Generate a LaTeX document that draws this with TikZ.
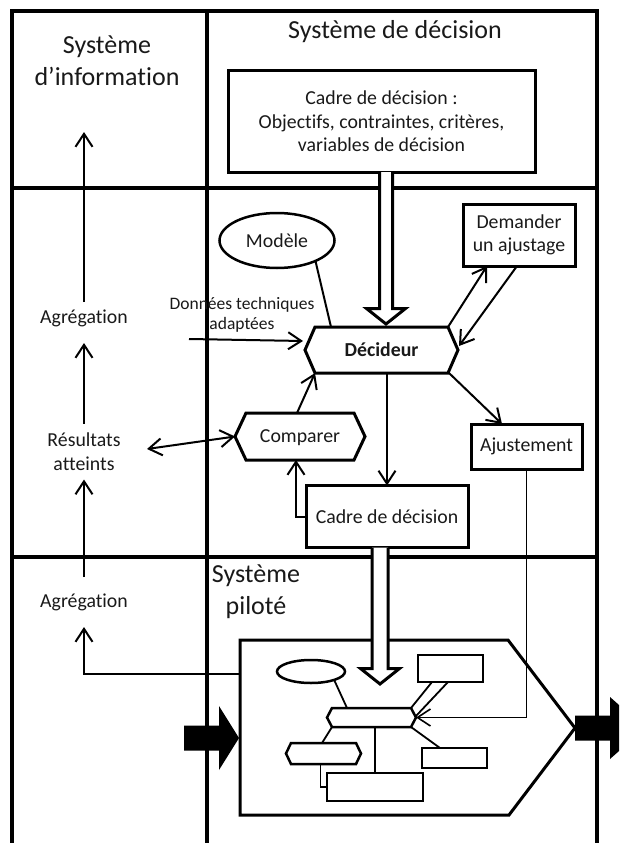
\documentclass[tikz,border=0pt]{standalone}
\usepackage{fontspec}
\setmainfont{Carlito}[Ligatures=NoCommon]
\usetikzlibrary{arrows.meta,calc,shapes.geometric}

\newcommand\txttitle{\fontsize{26}{32}\selectfont}
\newcommand\txtbody{\fontsize{19.8}{23.5}\selectfont}
\newcommand\txtsmall{\fontsize{17.5}{20.5}\selectfont}

% hexagonal outline around a node: #2 node name, #3 corner inset
\newcommand\hexoutline[3][]{%
  \draw[#1] (#2.west) -- ($(#2.north west)+(#3,0)$) -- ($(#2.north east)+(-#3,0)$)
    -- (#2.east) -- ($(#2.south east)+(-#3,0)$) -- ($(#2.south west)+(#3,0)$) -- cycle;}

% hollow block arrow: start, tip, half shaft width, half head width, head length
\newcommand\hollowarrow[5]{%
  \draw[bigarrow] ($(#1)+(-#3,0)$) -- ($(#2)+(-#3,-#5)$) -- ($(#2)+(-#4,-#5)$) -- (#2)
    -- ($(#2)+(#4,-#5)$) -- ($(#2)+(#3,-#5)$) -- ($(#1)+(#3,0)$);}

\begin{document}
\begin{tikzpicture}[x=1pt,y=-1pt,
  every node/.style={inner sep=0pt,outer sep=0pt,text=black!90},
  gridline/.style={line width=4pt,line join=miter},
  box/.style={draw,line width=3pt,align=center,font=\txtbody},
  txt/.style={align=center,font=\txtbody},
  ttl/.style={align=center,font=\txttitle},
  conn/.style={line width=2pt,-{Straight Barb[length=13pt,width=17pt]}},
  dconn/.style={line width=2pt,{Straight Barb[length=13pt,width=17pt]}-{Straight Barb[length=13pt,width=17pt]}},
  thinconn/.style={line width=1.6pt,-{Straight Barb[length=13pt,width=17pt]}},
  plainline/.style={line width=2pt},
  mini/.style={line width=1.8pt},
  minishape/.style={draw,line width=2.5pt},
  bigarrow/.style={draw,fill=white,line width=3pt,line join=miter},
]
\useasboundingbox (0,0) rectangle (619,843);
\clip (0,0) rectangle (619,843);

% lanes
\draw[gridline] (12,843) -- (12,11) -- (597,11) -- (597,843);
\draw[gridline] (207,11) -- (207,843);
\draw[gridline] (12,188) -- (597,188);
\draw[gridline] (12,557) -- (597,557);

% lane titles
\node[ttl] (t-info) at (107,61) {Système\\d’information};
\node[ttl] (t-dec) at (395,32) {Système de décision};
\node[ttl] (t-pil) at (256,592) {Système\\piloté};

% decision system
\node[box,minimum width=307,minimum height=101] (cadre) at (381.5,121.5)
  {Cadre de décision :\\Objectifs, contraintes, critères,\\variables de décision};
\node[box,minimum width=112,minimum height=62] (dem) at (519,235) {Demander\\un ajustage};
\node[draw,ellipse,line width=2.5pt,minimum width=115,minimum height=55,font=\txtbody] (modele) at (277,240.5) {Modèle};
\node[txt,minimum width=153,minimum height=46,font=\txtbody\bfseries] (dec) at (381.5,350) {Décideur};
\hexoutline[line width=3pt]{dec}{10}
\node[txt,minimum width=130,minimum height=47,text depth=0.05em] (comp) at (300,436.5) {Comparer};
\hexoutline[line width=3pt]{comp}{11}
\node[box,minimum width=111,minimum height=45] (ajust) at (526.5,446.5) {Ajustement};
\node[box,minimum width=162,minimum height=62] (cadre2) at (387,516.5) {Cadre de décision};
\node[txt,font=\txtsmall] (donnees) at (242,315) {Données techniques\\adaptées};
\coordinate (dstart) at (189,339);

% information system
\node[txt,minimum height=32] (agr1) at (84,318) {Agrégation};
\node[txt,minimum width=126,minimum height=56] (res) at (84,451.5) {Résultats\\atteints};
\node[txt,minimum height=50] (agr2) at (84,602) {Agrégation};
\coordinate (infotop) at (84,132);

% piloted system
\draw[line width=3pt,line join=miter] (240,640) -- (508,640) -- (575,728) -- (509,815) -- (240,815) -- cycle;
\coordinate (p-w) at (240,738);
\coordinate (p-e) at (575,728);
\coordinate (p-out) at (240,674);
\fill ($(p-w)+(-56,-12.5)$) -- ($(p-w)+(-21,-12.5)$) -- ($(p-w)+(-21,-32)$) -- ($(p-w)+(-1,0)$)
  -- ($(p-w)+(-21,32)$) -- ($(p-w)+(-21,12.5)$) -- ($(p-w)+(-56,12.5)$) -- cycle;
\fill ($(p-e)+(0,-12.5)$) -- ($(p-e)+(35,-12.5)$) -- ($(p-e)+(35,-31)$) -- ($(p-e)+(70,0)$)
  -- ($(p-e)+(35,31)$) -- ($(p-e)+(35,12.5)$) -- ($(p-e)+(0,12.5)$) -- cycle;

\node[minishape,ellipse,minimum width=68,minimum height=23] (m-ell) at (311,671.5) {};
\node[minishape,minimum width=65,minimum height=27] (m-dem) at (450.5,668.5) {};
\node[minimum width=89,minimum height=19] (m-dec) at (371.5,717.5) {};
\hexoutline[line width=2.5pt]{m-dec}{5}
\node[minimum width=75,minimum height=21] (m-comp) at (323.5,753.5) {};
\hexoutline[line width=2.5pt]{m-comp}{5}
\node[minishape,minimum width=96,minimum height=28] (m-cadre) at (375,787) {};
\node[minishape,minimum width=65,minimum height=20] (m-ajust) at (454.5,758) {};

\draw[mini] (m-ell.-20) -- ($(m-dec.north west)+(20,0)$);
\draw[mini] ($(m-dec.north east)+(-5,0)$) -- ($(m-dem.south west)+(14,0)$);
\draw[mini] ($(m-dem.south west)+(30,0)$) -- ($(m-dec.east)+(0,-1.5)$);
\draw[mini] ($(m-dec.south west)+(5,0)$) -- ($(m-comp.north)+(-1.5,0)$);
\draw[mini] (m-dec.south -| m-cadre.north) -- (m-cadre.north);
\draw[mini] ($(m-dec.south east)+(-5,0)$) -- ($(m-ajust.north west)+(18,0)$);
\draw[mini] ($(m-comp.south)+(-3,0)$) |- (m-cadre.west);

% connectors
\draw[conn] (agr1.north) -- (infotop);
\draw[conn] (res.north) -- ($(agr1.south)+(0,9)$);
\draw[conn] (agr2.north) -- (res.south);
\draw[conn] (p-out) -| (agr2.south);
\draw[dconn] ($(res.east)+(0,-2.5)$) -- (comp.west);
\draw[conn] (dstart) -- ($(dec.west)+(-2,-9)$);
\draw[plainline] (modele.-28) -- ($(dec.north west)+(26,0)$);
\draw[conn] ($(dec.north east)+(-10,0)$) -- ($(dem.south west)+(24,0)$);
\draw[conn] ($(dem.south west)+(54,0)$) -- ($(dec.east)+(1,-4)$);
\draw[conn] ($(comp.north)+(-3,0)$) -- ($(dec.south west)+(10,0)$);
\draw[conn] (dec.south -| cadre2.north) -- (cadre2.north);
\draw[conn] ($(dec.south east)+(-9,0)$) -- ($(ajust.north west)+(31,0)$);
\draw[conn] (cadre2.west) -| ($(comp.south)+(-4,0)$);
\draw[thinconn] (ajust.south) |- (m-dec.east);

% block arrows
\coordinate (a1s) at ($(cadre.south)+(4.5,0)$);
\coordinate (a1t) at ($(dec.north)+(4.5,-3)$);
\hollowarrow{a1s}{a1t}{6.5}{19.5}{15.5}
\coordinate (a2s) at ($(cadre2.south)+(-7,0)$);
\coordinate (a2t) at (380,684);
\hollowarrow{a2s}{a2t}{8}{19.5}{15.5}
\end{tikzpicture}
\end{document}
